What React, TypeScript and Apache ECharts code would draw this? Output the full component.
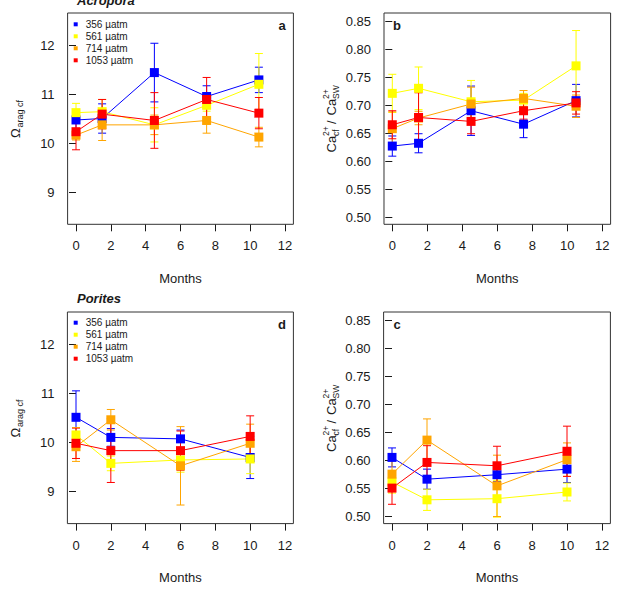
import React, { useEffect, useRef } from "react";
import * as echarts from "echarts";

// Treatment groups (seawater pCO2) and their colours
const seriesNames = ["356 µatm", "561 µatm", "714 µatm", "1053 µatm"];
const seriesColors = ["#0000ff", "#ffff00", "#ffa500", "#ff0000"];

// Sampling months
const acroporaMonths = [0, 1.5, 4.5, 7.5, 10.5];
const poritesMonths = [0, 2, 6, 10];

// Acropora: calcifying-fluid aragonite saturation (mean, s.e.)
const acroporaOmega = [
  [10.48, 10.51, 11.45, 10.96, 11.3],
  [10.63, 10.65, 10.38, 10.78, 11.21],
  [10.17, 10.38, 10.38, 10.47, 10.13],
  [10.24, 10.6, 10.47, 10.9, 10.62],
];
const acroporaOmegaErr = [
  [0.2, 0.3, 0.6, 0.22, 0.26],
  [0.19, 0.25, 0.35, 0.12, 0.63],
  [0.1, 0.32, 0.2, 0.26, 0.2],
  [0.37, 0.3, 0.57, 0.45, 0.32],
];

// Acropora: Ca2+ cf / Ca2+ sw (mean, s.e.)
const acroporaCa = [
  [0.627, 0.632, 0.69, 0.666, 0.708],
  [0.721, 0.73, 0.706, 0.709, 0.77],
  [0.658, 0.677, 0.702, 0.712, 0.698],
  [0.665, 0.678, 0.671, 0.69, 0.704],
];
const acroporaCaErr = [
  [0.018, 0.017, 0.044, 0.024, 0.029],
  [0.034, 0.038, 0.038, 0.012, 0.063],
  [0.03, 0.012, 0.03, 0.014, 0.02],
  [0.025, 0.044, 0.022, 0.015, 0.02],
];

// Porites: calcifying-fluid aragonite saturation (mean, s.e.)
const poritesOmega = [
  [10.51, 10.1, 10.07, 9.69],
  [10.15, 9.57, 9.64, 9.66],
  [9.91, 10.46, 9.52, 9.98],
  [9.98, 9.83, 9.83, 10.12],
];
const poritesOmegaErr = [
  [0.54, 0.18, 0.18, 0.43],
  [0.15, 0.15, 0.25, 0.3],
  [0.3, 0.21, 0.8, 0.39],
  [0.31, 0.65, 0.4, 0.42],
];

// Porites: Ca2+ cf / Ca2+ sw (mean, s.e.)
const poritesCa = [
  [0.605, 0.566, 0.574, 0.584],
  [0.561, 0.529, 0.531, 0.543],
  [0.575, 0.636, 0.554, 0.601],
  [0.55, 0.596, 0.59, 0.616],
];
const poritesCaErr = [
  [0.017, 0.018, 0.012, 0.024],
  [0.02, 0.019, 0.033, 0.016],
  [0.025, 0.038, 0.055, 0.03],
  [0.029, 0.03, 0.035, 0.045],
];

const FONT = "'Liberation Sans', Arial, Helvetica, sans-serif";
const INK = "#1a1a1a";

type Panel = {
  grid: { left: number; top: number; width: number; height: number };
  box: [number, number, number, number];
  yMin: number;
  yMax: number;
  yStep: number;
  yDigits: number;
  months: number[];
  means: number[][];
  errs: number[][];
  letter: string;
  letterPos: [number, number];
};

const panels: Panel[] = [
  {
    grid: { left: 76, top: 45.7, width: 209, height: 146.6 },
    box: [67.6, 13, 293.4, 224.3],
    yMin: 9, yMax: 12, yStep: 1, yDigits: 0,
    months: acroporaMonths, means: acroporaOmega, errs: acroporaOmegaErr,
    letter: "a", letterPos: [282, 25],
  },
  {
    grid: { left: 392.3, top: 21, width: 210, height: 196.3 },
    box: [384, 13, 610.6, 224.3],
    yMin: 0.5, yMax: 0.85, yStep: 0.05, yDigits: 2,
    months: acroporaMonths, means: acroporaCa, errs: acroporaCaErr,
    letter: "b", letterPos: [397, 25],
  },
  {
    grid: { left: 76, top: 344.3, width: 209, height: 147 },
    box: [67.4, 312, 293.4, 523.6],
    yMin: 9, yMax: 12, yStep: 1, yDigits: 0,
    months: poritesMonths, means: poritesOmega, errs: poritesOmegaErr,
    letter: "d", letterPos: [282, 324],
  },
  {
    grid: { left: 392, top: 320.7, width: 210, height: 195.3 },
    box: [383.6, 312, 610.4, 523.6],
    yMin: 0.5, yMax: 0.85, yStep: 0.05, yDigits: 2,
    months: poritesMonths, means: poritesCa, errs: poritesCaErr,
    letter: "c", letterPos: [397, 324],
  },
];

function txt(text: string, x: number, y: number, size: number, extra: any = {}) {
  return {
    type: "text",
    x,
    y,
    silent: true,
    style: {
      text,
      fontSize: size,
      fontFamily: FONT,
      fill: INK,
      align: "left",
      verticalAlign: "middle",
      ...extra,
    },
  };
}

// Rotated "Ω arag cf" axis title
function omegaTitle(cx: number, cy: number) {
  return {
    type: "group",
    x: cx,
    y: cy,
    rotation: Math.PI / 2,
    children: [txt("Ω", -19.5, 0, 13), txt("arag cf", -9, 4.5, 9)],
  };
}

// Rotated "Ca2+cf / Ca2+SW" axis title
function caTitle(cx: number, cy: number) {
  return {
    type: "group",
    x: cx,
    y: cy,
    rotation: Math.PI / 2,
    children: [
      txt("Ca", -34, 0, 13),
      txt("2+", -17.4, -5.5, 8.5),
      txt("cf", -17.4, 5, 8.5),
      txt("/", -5.5, 0, 13),
      txt("Ca", 3, 0, 13),
      txt("2+", 19.6, -5.5, 8.5),
      txt("SW", 19.6, 5, 8.5),
    ],
  };
}

function buildOption() {
  const grid: any[] = [];
  const xAxis: any[] = [];
  const yAxis: any[] = [];
  const series: any[] = [];
  const graphic: any[] = [];

  panels.forEach((p, gi) => {
    grid.push({ ...p.grid, show: false });
    const [bx0, by0, bx1, by1] = p.box;
    const gridBottom = p.grid.top + p.grid.height;
    xAxis.push({
      type: "value",
      gridIndex: gi,
      min: 0,
      max: 12,
      interval: 2,
      offset: by1 - gridBottom,
      axisLine: { show: false },
      axisTick: { show: true, length: 7, lineStyle: { color: INK, width: 1 } },
      axisLabel: { fontSize: 13, margin: 15, color: INK, fontFamily: FONT },
      splitLine: { show: false },
    });
    yAxis.push({
      type: "value",
      gridIndex: gi,
      min: p.yMin,
      max: p.yMax,
      interval: p.yStep,
      offset: p.grid.left - bx0,
      axisLine: { show: false },
      axisTick: { show: true, length: 7, lineStyle: { color: INK, width: 1 } },
      axisLabel: {
        fontSize: 13,
        margin: 13,
        color: INK,
        fontFamily: FONT,
        formatter: (v: number) => v.toFixed(p.yDigits),
      },
      splitLine: { show: false },
    });

    // plot frame
    graphic.push({
      type: "rect",
      silent: true,
      z: 50,
      shape: { x: bx0, y: by0, width: bx1 - bx0, height: by1 - by0 },
      style: { fill: "none", stroke: "#333", lineWidth: 1 },
    });
    graphic.push(
      txt(p.letter, p.letterPos[0], p.letterPos[1], 13, { fontWeight: "bold", align: "center" })
    );
    graphic.push(
      txt("Months", (bx0 + bx1) / 2, by1 + 54, 13, { align: "center" })
    );

    p.means.forEach((vals, si) => {
      const color = seriesColors[si];
      const errData = p.months.map((m, i) => [m, vals[i] - p.errs[si][i], vals[i] + p.errs[si][i]]);
      series.push({
        type: "custom",
        name: seriesNames[si],
        xAxisIndex: gi,
        yAxisIndex: gi,
        silent: true,
        clip: false,
        itemStyle: { color },
        data: errData,
        encode: { x: 0, y: [1, 2] },
        renderItem: (params: any, api: any) => {
          const x = api.value(0);
          const lo = api.coord([x, api.value(1)]);
          const hi = api.coord([x, api.value(2)]);
          const w = 4;
          const st = { stroke: color, lineWidth: 1 };
          return {
            type: "group",
            children: [
              { type: "line", shape: { x1: hi[0], y1: hi[1], x2: lo[0], y2: lo[1] }, style: st },
              { type: "line", shape: { x1: hi[0] - w, y1: hi[1], x2: hi[0] + w, y2: hi[1] }, style: st },
              { type: "line", shape: { x1: lo[0] - w, y1: lo[1], x2: lo[0] + w, y2: lo[1] }, style: st },
            ],
          };
        },
      });
      series.push({
        type: "line",
        name: seriesNames[si],
        xAxisIndex: gi,
        yAxisIndex: gi,
        silent: true,
        clip: false,
        data: p.months.map((m, i) => [m, vals[i]]),
        symbol: "rect",
        symbolSize: 9,
        showAllSymbol: true,
        lineStyle: { color, width: 1 },
        itemStyle: { color },
        emphasis: { disabled: true },
      });
    });
  });

  graphic.push(omegaTitle(15, 118.5));
  graphic.push(omegaTitle(15, 418));
  graphic.push(caTitle(331, 118.5));
  graphic.push(caTitle(331, 418));
  graphic.push(txt("Acropora", 77, 0, 13, { fontWeight: "bold", fontStyle: "italic" }));
  graphic.push(txt("Porites", 77, 298.4, 13, { fontWeight: "bold", fontStyle: "italic" }));

  const legendBase = {
    orient: "vertical",
    left: 73.7,
    padding: 0,
    itemGap: 0,
    itemWidth: 4,
    itemHeight: 4,
    icon: "rect",
    selectedMode: false,
    data: seriesNames.map((name, i) => ({
      name,
      icon: "rect",
      itemStyle: { color: seriesColors[i], borderWidth: 0 },
    })),
    textStyle: { fontSize: 10, lineHeight: 12, color: INK, fontFamily: FONT, padding: [0, 0, 0, 3] },
  };

  return {
    animation: false,
    backgroundColor: "#ffffff",
    grid,
    xAxis,
    yAxis,
    series,
    graphic,
    legend: [
      { ...legendBase, top: 18.3 },
      { ...legendBase, top: 316.7 },
    ],
  };
}

export default function App() {
  const ref = useRef<HTMLDivElement>(null);
  useEffect(() => {
    if (!ref.current) return;
    const chart = echarts.init(ref.current, undefined, { renderer: "svg" });
    chart.setOption(buildOption() as any);
    return () => chart.dispose();
  }, []);
  return (
    <div
      ref={ref}
      style={{ position: "fixed", left: 0, top: 0, width: 617, height: 589, background: "#fff" }}
    />
  );
}
